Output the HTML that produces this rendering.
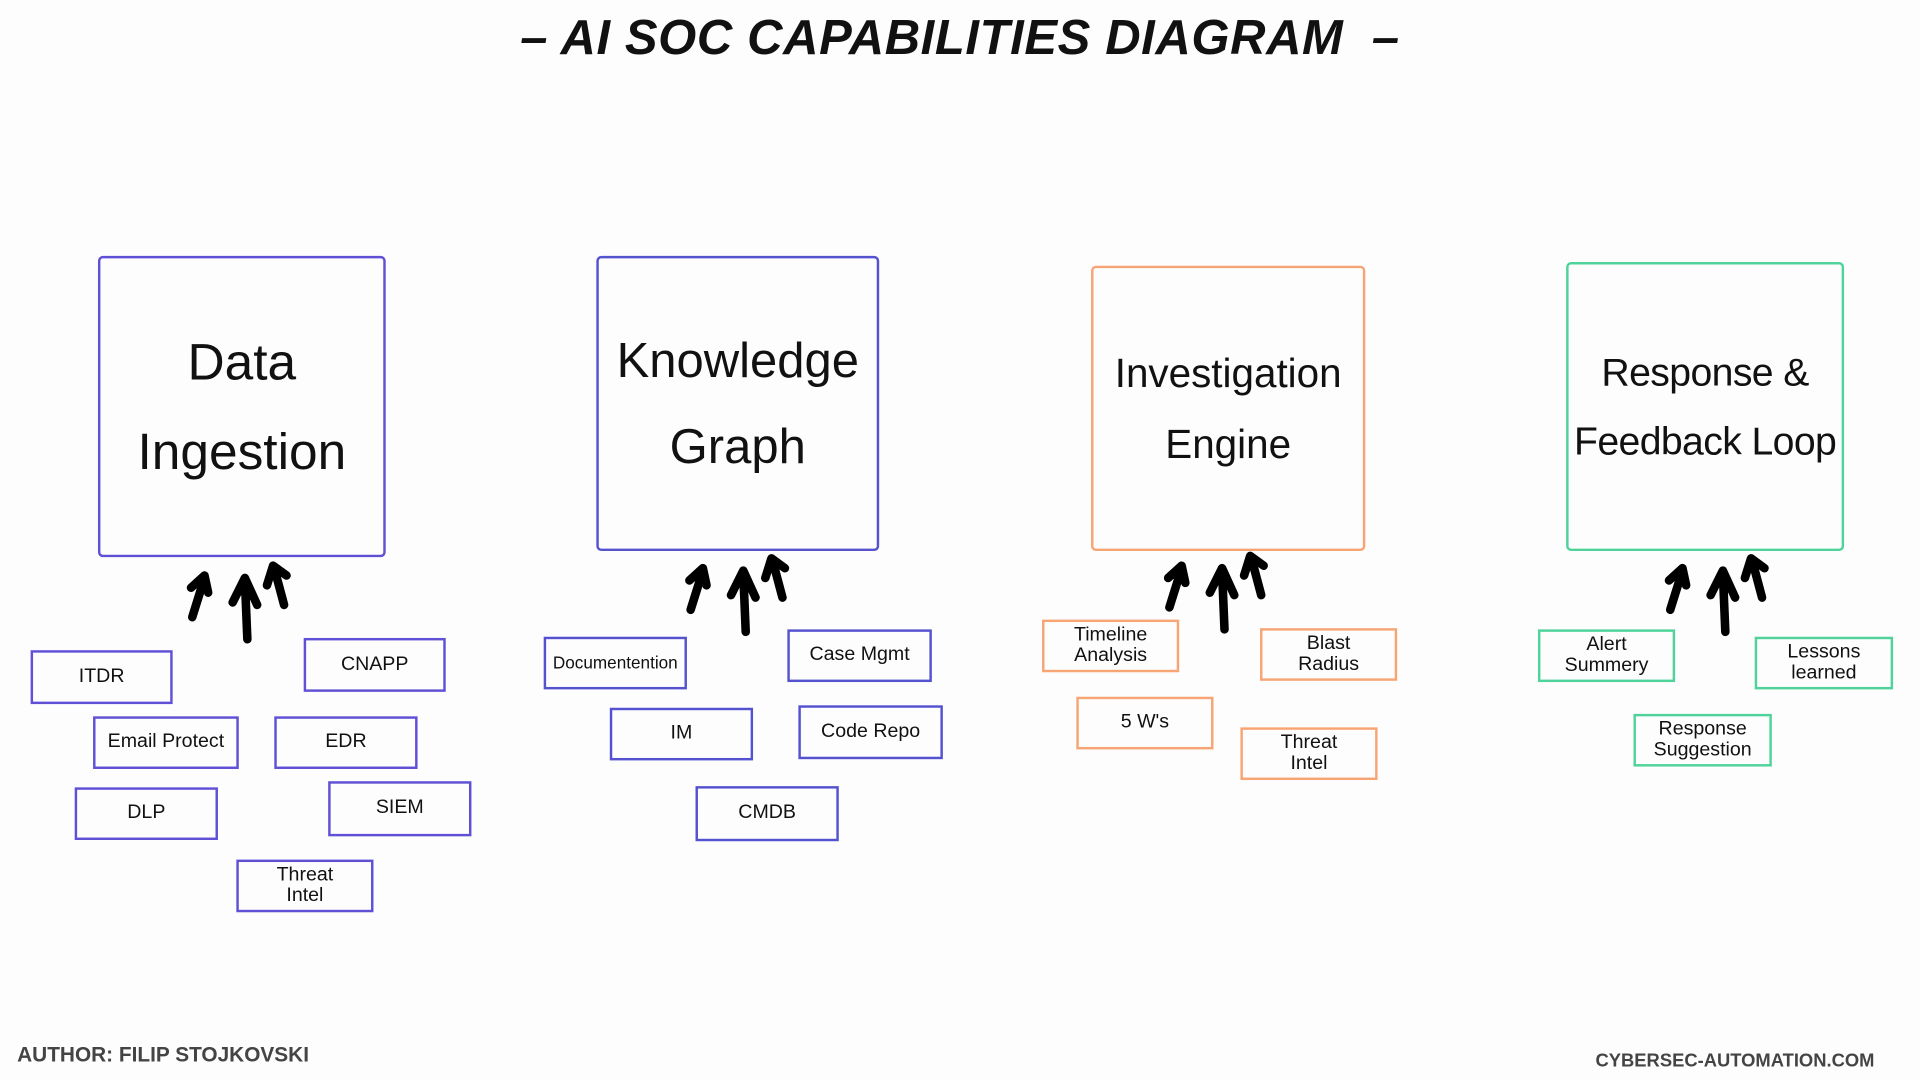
<!DOCTYPE html>
<html><head><meta charset="utf-8"><style>
html,body{margin:0;padding:0;background:#fdfdfd;width:1920px;height:1080px;overflow:hidden}
#c{position:absolute;left:0;top:0;width:1568px;height:882px;transform:scale(1.2245);transform-origin:0 0;font-family:"Liberation Sans",sans-serif;color:#111}
.b{position:absolute;box-sizing:border-box;border:2px solid;display:flex;align-items:center;justify-content:center;text-align:center;white-space:nowrap}
.big{border-width:2.5px;border-radius:4px;line-height:1.75}
.s{font-size:16px;line-height:1.05}
.p{border-color:#5f50d6}.k{border-color:#5552cf}.o{border-color:#f7a574}.g{border-color:#4fd39a}
.t{position:absolute}
</style></head><body><div id="c">
<div class="t" style="left:0;width:1568px;top:9px;text-align:center;font-size:40px;font-weight:bold;font-style:italic;letter-spacing:0.5px">– AI SOC CAPABILITIES DIAGRAM &nbsp;–</div>

<div class="b big p" style="left:80px;top:209px;width:235px;height:246px;font-size:42px">Data<br>Ingestion</div>
<div class="b big k" style="left:487px;top:209px;width:231px;height:241px;font-size:40px">Knowledge<br>Graph</div>
<div class="b big o" style="left:891px;top:217px;width:224px;height:233px;font-size:33px">Investigation<br>Engine</div>
<div class="b big g" style="left:1279px;top:214px;width:227px;height:236px;font-size:32px;letter-spacing:-0.5px">Response &amp;<br>Feedback Loop</div>

<svg style="position:absolute;left:0;top:0" width="1568" height="882">
<defs><g id="ar" fill="none" stroke="#000" stroke-width="7" stroke-linecap="round" stroke-linejoin="round">
<path d="M-45 30 L-35 -2 M-46 6 L-35 -4 L-32 10"/>
<path d="M0 48 L-2 0 M-12 18 L-2 -2 L8 20"/>
<path d="M30 20 L22 -10 M16 4 L21 -12 L32 -4"/>
</g></defs>
<use href="#ar" x="202" y="474"/>
<use href="#ar" x="609" y="468"/>
<use href="#ar" x="1000" y="466"/>
<use href="#ar" x="1409" y="468"/>
</svg>

<div class="b s p" style="left:25px;top:531px;width:116px;height:44px">ITDR</div>
<div class="b s p" style="left:248px;top:521px;width:116px;height:44px">CNAPP</div>
<div class="b s p" style="left:76px;top:585px;width:119px;height:43px">Email Protect</div>
<div class="b s p" style="left:224px;top:585px;width:117px;height:43px">EDR</div>
<div class="b s p" style="left:61px;top:643px;width:117px;height:43px">DLP</div>
<div class="b s p" style="left:268px;top:638px;width:117px;height:45px">SIEM</div>
<div class="b s p" style="left:193px;top:702px;width:112px;height:43px">Threat<br>Intel</div>

<div class="b s k" style="left:444px;top:520px;width:117px;height:43px;font-size:14px">Documentention</div>
<div class="b s k" style="left:643px;top:514px;width:118px;height:43px">Case Mgmt</div>
<div class="b s k" style="left:498px;top:578px;width:117px;height:43px">IM</div>
<div class="b s k" style="left:652px;top:576px;width:118px;height:44px">Code Repo</div>
<div class="b s k" style="left:568px;top:642px;width:117px;height:45px">CMDB</div>

<div class="b s o" style="left:851px;top:506px;width:112px;height:43px">Timeline<br>Analysis</div>
<div class="b s o" style="left:1029px;top:513px;width:112px;height:43px">Blast<br>Radius</div>
<div class="b s o" style="left:879px;top:569px;width:112px;height:43px">5 W's</div>
<div class="b s o" style="left:1013px;top:594px;width:112px;height:43px">Threat<br>Intel</div>

<div class="b s g" style="left:1256px;top:514px;width:112px;height:43px">Alert<br>Summery</div>
<div class="b s g" style="left:1433px;top:520px;width:113px;height:43px">Lessons<br>learned</div>
<div class="b s g" style="left:1334px;top:583px;width:113px;height:43px">Response<br>Suggestion</div>

<div class="t" style="left:14px;top:852px;font-size:17px;font-weight:bold;color:#444">AUTHOR: FILIP STOJKOVSKI</div>
<div class="t" style="left:1303px;top:858px;font-size:15px;font-weight:bold;color:#444">CYBERSEC-AUTOMATION.COM</div>
</div></body></html>
